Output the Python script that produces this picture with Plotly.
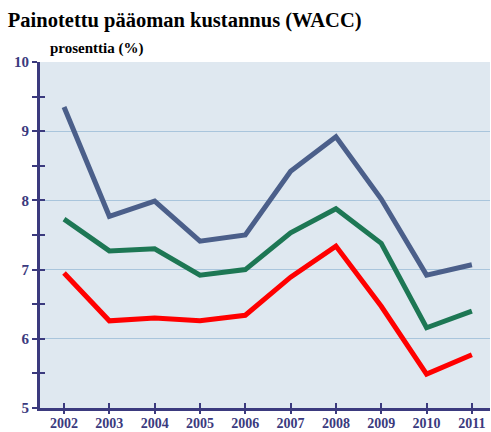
import plotly.graph_objects as go

years = [2002, 2003, 2004, 2005, 2006, 2007, 2008, 2009, 2010, 2011]
blue_vals = [9.35, 7.77, 7.99, 7.41, 7.50, 8.42, 8.92, 8.02, 6.92, 7.07]
green_vals = [7.73, 7.27, 7.30, 6.92, 7.00, 7.53, 7.88, 7.38, 6.16, 6.40]
red_vals = [6.95, 6.26, 6.30, 6.26, 6.34, 6.89, 7.34, 6.47, 5.49, 5.77]
y_ticks = [5, 6, 7, 8, 9, 10]

AXC = "#3b3a7e"
FONT = "Liberation Serif"

fig = go.Figure()
for vals, col in [(blue_vals, "#4b5f8a"), (green_vals, "#1d7754"), (red_vals, "#ff0000")]:
    fig.add_trace(go.Scatter(x=years, y=vals, mode="lines",
                             line=dict(color=col, width=5), showlegend=False,
                             hoverinfo="skip"))

xr = [2001.47, 2011.4]
yr = [5, 10]

tick_common = dict(showgrid=False, zeroline=False, showticklabels=False,
                   tickwidth=2, tickcolor=AXC, ticklen=5, automargin=False)

fig.update_layout(
    width=491, height=432,
    margin=dict(l=40, r=1, t=62, b=24),
    paper_bgcolor="white",
    plot_bgcolor="#dfe8f0",
    font=dict(family=FONT, color=AXC),
    title=dict(text="<b>Painotettu pääoman kustannus (WACC)</b>",
               x=0.016, xanchor="left", y=0.955, yanchor="middle",
               font=dict(family=FONT, size=20.5, color="black")),
    xaxis=dict(range=xr, tickvals=years, ticktext=[f"<b>{y}</b>" for y in years],
               showgrid=False, zeroline=False, showline=True, linecolor=AXC,
               linewidth=3, ticks="", automargin=False,
               tickfont=dict(family=FONT, size=14, color=AXC)),
    yaxis=dict(range=yr, tickvals=y_ticks, ticktext=[f"<b>{v}</b>" for v in y_ticks],
               showgrid=True, gridcolor="#a9c5dc", gridwidth=1, zeroline=False,
               showline=True, linecolor=AXC, linewidth=3, ticks="outside",
               ticklen=5, tickwidth=2, tickcolor=AXC, automargin=False,
               minor=dict(dtick=0.5, ticks="outside", ticklen=5, tickwidth=2,
                          tickcolor=AXC, showgrid=False),
               tickfont=dict(family=FONT, size=15, color=AXC)),
    xaxis2=dict(range=xr, overlaying="x", tickvals=years, ticks="inside",
                side="bottom", anchor="y", **tick_common),
    xaxis3=dict(range=xr, overlaying="x", tickvals=years, ticks="outside",
                side="bottom", anchor="y", **tick_common),
    yaxis2=dict(range=yr, overlaying="y", dtick=0.5, tick0=5, ticks="inside",
                side="left", anchor="x", **tick_common),
    annotations=[dict(text="<b>prosenttia (%)</b>", xref="paper", yref="paper",
                      x=0.018, y=1.0, xanchor="left", yanchor="bottom", yshift=3,
                      showarrow=False, font=dict(family=FONT, size=15, color="black"))],
)
fig.add_trace(go.Scatter(x=[years[0]], y=[None], xaxis="x2", yaxis="y2",
                         showlegend=False, hoverinfo="skip"))
fig.add_trace(go.Scatter(x=[years[0]], y=[None], xaxis="x3", yaxis="y",
                         showlegend=False, hoverinfo="skip"))

fig.write_html("out.html", config={"displayModeBar": False},
               post_script="document.body.style.margin='0';document.body.style.overflow='hidden';")
